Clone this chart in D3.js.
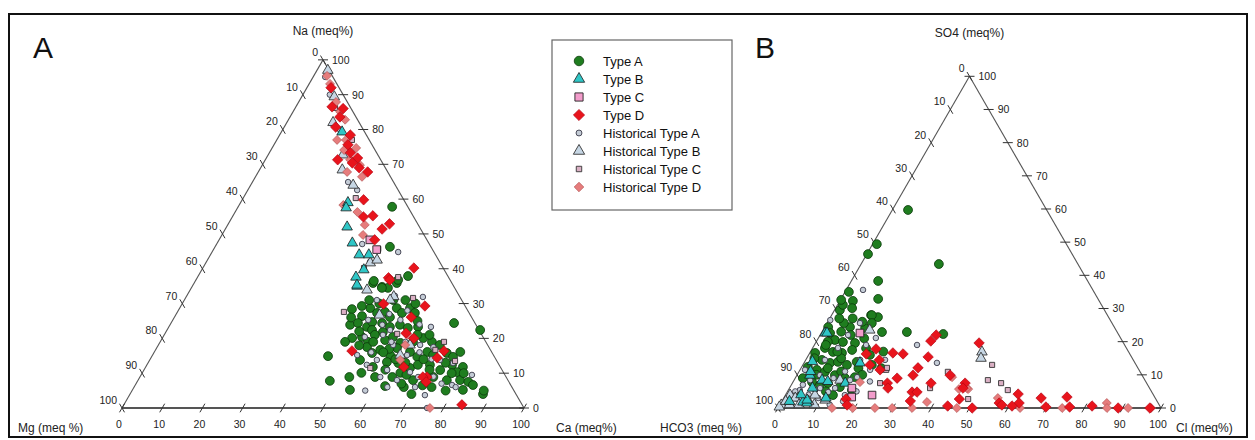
<!DOCTYPE html>
<html><head><meta charset="utf-8">
<script src="https://cdn.jsdelivr.net/npm/d3@7"></script>
<style>body{margin:0;background:#fff}svg{display:block}text{font-family:"Liberation Sans",Arial,sans-serif}</style>
</head><body><svg id="c" width="1255" height="440"></svg>
<script>
// ---------- DATA ----------
const tickValues = [0,10,20,30,40,50,60,70,80,90,100];
const legendLabels = ["Type A","Type B","Type C","Type D","Historical Type A","Historical Type B","Historical Type C","Historical Type D"];

// Cation triangle (A): [Ca, Na] in meq %, Mg = 100 - Ca - Na
const cationTypeA = [[44.5,35.9],[47.3,34.8],[50.4,35.9],[48.9,34.5],[43.0,28.4],[46.5,26.4],[47.4,28.7],[49.8,27.3],[51.6,27.6],[54.0,28.7],[56.0,27.3],[57.3,28.7],[59.2,27.3],[53.6,26.1],[44.8,23.9],[46.5,24.4],[49.3,23.3],[49.9,24.7],[52.5,24.4],[55.0,23.3],[57.2,23.9],[59.6,23.0],[62.0,23.3],[51.0,22.4],[54.0,21.8],[47.2,20.1],[49.5,20.4],[51.7,19.0],[52.4,21.0],[55.7,19.5],[57.2,20.4],[59.9,18.7],[62.9,19.0],[64.9,20.1],[67.6,19.0],[70.0,18.1],[52.2,17.5],[54.3,15.8],[55.9,16.7],[59.1,15.2],[59.8,17.2],[63.6,16.1],[66.1,14.7],[67.9,16.1],[69.8,15.2],[72.9,15.8],[75.0,14.7],[76.1,16.1],[52.3,13.8],[56.5,11.8],[59.3,13.2],[62.3,12.9],[65.9,11.5],[67.4,12.4],[70.4,12.4],[73.7,10.9],[75.9,12.4],[78.9,11.8],[78.2,10.3],[54.5,10.1],[58.5,8.9],[62.8,8.9],[64.2,10.1],[68.4,8.0],[73.0,8.9],[76.8,8.0],[80.1,8.0],[82.4,7.5],[84.0,6.6],[62.3,6.3],[67.1,6.0],[82.2,5.2],[87.8,4.0],[43.8,14.9],[47.8,7.8],[52.1,8.9],[54.1,5.2],[70.4,24.4],[77.9,22.4],[38.3,57.8],[43.5,46.3],[52.2,37.9],[44.4,36.5],[47.4,34.5],[50.3,36.8],[45.0,29.3],[87.5,5.0],[71.5,6.5],[66.0,9.5],
  [46,31],[49,30],[52,31],[55,31],[44,26],[48,22],[53,19],[58,17],[61,14],[64,13],[68,14],[71,11],[74,13],[77,10],[80,10],[66,7],[70,4],[74,6],[78,5],[60,11],[57,16],[50,18],[46,19],[63,21],[66,21],[61,25],[58,30]];
const cationTypeB = [[15.1,79.3],[26.7,59.0],[27.0,57.5],[30.0,52.0],[33.6,47.4],[37.0,44.0],[39.4,44.0],[39.4,37.6],[41.0,35.0],[40.3,39.7],[40.8,35.3]];
const cationTypeC = [[37.5,48.3],[40.6,45.5]];
const cationTypeD = [[6.0,92.0],[9.0,86.5],[12.0,86.0],[12.4,83.6],[12.8,80.7],[17.6,78.4],[18.4,75.6],[20.2,73.3],[18.0,71.3],[22.7,71.8],[24.5,69.0],[27.2,67.8],[22.1,70.4],[30.2,59.8],[34.8,55.2],[32.6,54.9],[40.1,52.9],[39.0,51.4],[38.7,48.3],[52.5,40.2],[47.6,37.4],[48.2,36.8],[50.1,29.9],[60.7,29.3],[58.9,26.1],[59.9,21.5],[62.6,20.0],[49.0,16.4],[71.9,16.4],[71.2,14.4],[64.2,11.8],[71.4,8.9],[70.4,8.9],[71.9,7.5],[84.1,0.9]];
const cationHistA = [[58.9,31.9],[65.2,23.3],[69.2,8.9],[73.5,3.7],[75.9,0],[82.3,9.5],[78.8,6.6],[54.4,21.0],[58.4,18.1],[63.3,15.2],[56.5,13.8],[54.7,12.4],[60.5,10.9],[64.4,8.0],[66.5,10.3],[69.9,6.0],[59.8,8.9],[50.9,15.2],[48.6,25.3],[52.8,23.9],[60.1,21.6],[55.5,22.4],[56.6,25.3],[47.9,31.0],[50.2,20.4],[68.7,17.5],[72.2,13.8],[75.9,12.9],[65.1,18.1],[3.0,95.1],[6.7,90.0],[14.3,79.9],[23.8,64.9],[27.2,62.6],[36.2,47.1],[40.7,42.0],[46.3,44.8],[51.8,32.2],[62.0,14.0],[57.5,19.0],
  [53,27],[57,28],[62,24],[66,16],[70,14],[73,9],[76,7],[80,6],[63,6],[58,5],[54,16],[61,19]];
const cationHistB = [[2.7,97.0],[8.1,89.4],[11.5,82.0],[18.6,72.7],[20.6,68.4],[25.5,64.0],[40.9,41.7],[42.2,42.5],[44.0,33.9],[51.6,32.0],[50.7,26.7],[61.6,15.2],[62.6,18.1],[51.2,31.0]];
const cationHistC = [[40.9,45.7],[40.1,40.2],[49.9,37.6],[56.6,31.6],[41.4,27.6],[70.6,19.0],[76.1,13.5],[56.0,11.5],[57.8,21.3],[69.6,16.7],[9.9,86.2],[18.7,77.0],[28.0,60.3]];
const cationHistD = [[3.3,95.4],[5.2,93.1],[9.3,87.9],[11.7,85.1],[14.1,82.8],[15.0,77.0],[17.2,77.0],[18.2,74.1],[20.9,74.7],[21.1,71.3],[24.3,69.8],[26.5,66.4],[22.1,67.8],[25.9,58.3],[30.4,56.3],[34.1,52.6],[35.1,49.7],[62.3,13.8],[60.6,21.0],[61.4,18.1],[76.6,0]];

// Anion triangle (B): [Cl, SO4] in meq %, HCO3 = 100 - Cl - SO4
const anionTypeA = [[4.1,59.7],[1.1,49.4],[0.3,46.4],[20.3,43.4],[7.0,38.3],[9.7,32.9],[10.3,28.0],[3.4,32.3],[1.4,29.5],[12.4,27.4],[15.7,22.9],[22.2,22.9],[32.0,22.3],[10.7,24.1],[6.6,24.4],[0.9,24.4],[1.4,31.1],[4.3,30.1],[10.5,28.0],[4.4,25.6],[2.3,22.6],[4.6,20.5],[7.0,19.9],[10.3,19.6],[3.2,18.1],[5.9,16.9],[8.4,16.6],[10.6,17.5],[1.4,16.6],[4.2,14.5],[6.8,13.6],[8.7,13.9],[11.5,13.0],[13.6,13.9],[1.6,12.4],[4.4,11.5],[6.8,10.9],[9.9,9.9],[12.5,9.0],[15.4,9.3],[2.0,9.0],[5.0,7.8],[7.5,6.9],[9.3,7.5],[13.0,6.3],[16.6,5.4],[12.4,3.9],[11.7,25.6],[0.2,32.6],[3.0,20.0],[1.0,35.0],[2.5,27.0],
  [3,4],[5,10],[7,12],[9,15],[11,11],[13,9],[15,12],[17,10],[18,13],[2,15],[3,19],[5,23],[8,22],[6,27],[9,26],[12,21],[14,18],[16,16],[19,17],[21,12],[7,17],[10,5]];
const anionTypeB = [[1.0,22.6],[14.6,13.6],[7.3,8.4],[5.6,1.8],[6.8,1.5],[13.8,7.5],[6.4,2.4],[1.5,22.6],[3.4,9.9],[2.0,14.0],[4,4],[6,6],[9,8],[3,11],[11,3],[2,2]];
const anionTypeC = [[10.1,22.6],[22.6,3.9],[16.3,6.0],[17.6,3.3]];
const anionTypeD = [[30.3,22.0],[29.8,20.2],[42.7,19.6],[30.5,12.1],[31.5,15.4],[21.7,16.6],[24.5,16.3],[16.7,17.8],[14.9,16.3],[19.2,14.5],[20.9,11.5],[30.3,9.9],[26.6,9.0],[24.8,7.5],[25.7,6.0],[36.2,7.5],[32.6,4.8],[33.9,4.8],[33.5,2.1],[46.0,2.7],[45.1,7.5],[40.0,9.9],[17.5,13.0],[16.4,2.7],[17.6,0.9],[45.3,6.0],[44.0,0.6],[57.0,1.5],[58.0,0.9],[60.6,4.2],[62.2,1.5],[60.8,0.6],[67.2,3.0],[69.8,0.3],[73.8,3.3],[76.0,0.3],[81.7,0.6],[88.8,0],[97.1,0],[50.7,0]];
const anionHistA = [[4.4,35.6],[13.5,19.0],[26.8,19.0],[34.7,13.6],[8.6,25.6],[15.0,21.1],[16.0,9.3],[1.7,3.9],[3.0,5.4],[4.2,8.4],[6.0,9.9],[7.0,5.4],[10.7,4.8],[11.9,6.0],[15.5,3.9],[14.6,8.4],[5.0,14.5],[6.6,18.1],[7.3,22.0],[0.4,26.5],[14.2,14.5],[18.3,11.5],[20.7,14.5],[1.3,11.5],
  [2,2],[3,1],[5,2],[6,4],[8,6],[9,3],[10,9],[12,11],[3,7],[2,5],[13,1],[16,2],[18,5],[20,8]];
const anionHistB = [[44.8,16.9],[45.5,15.0],[1.2,3.9],[0.4,0.9],[0.2,0.3],[4.2,3.0],[7.7,3.9],[11.1,2.4],[12.0,8.4],[12.2,23.5],[2.5,1.0],[9.0,1.0],[3,3],[5,1],[1,2],[7,2]];
const anionHistC = [[49.4,13.0],[50.6,8.4],[54.5,7.5],[57.3,5.4],[48.3,2.7],[38.9,10.9],[36.7,6.0],[22.5,11.5],[22.9,7.5],[22.4,12.1]];
const anionHistD = [[14.1,0],[25.3,0],[29.8,0],[35.0,0],[46.7,0],[38.0,1.8],[44.4,5.7],[40.8,9.3],[46.8,5.7],[55.9,3.0],[17.5,7.8],[46.3,6.0],[85.1,1.5],[85.9,0],[91.4,0],[74.2,0],[63.2,0],[97.4,0],[19.5,0]];

// ---------- STYLES ----------
const styles = {
  "Type A": {shape:"circle", size:62, fill:"#1f7d1f", stroke:"#0a3a0a", sw:0.8},
  "Type B": {shape:"triangle", size:48, fill:"#2fc6c6", stroke:"#1a1a1a", sw:0.8},
  "Type C": {shape:"square", size:58, fill:"#f29ccb", stroke:"#222", sw:0.9},
  "Type D": {shape:"diamond", size:55, fill:"#e8141c", stroke:"#b00010", sw:0.6},
  "Historical Type A": {shape:"circle", size:24, fill:"#c4ccd6", stroke:"#3a3a4a", sw:0.9},
  "Historical Type B": {shape:"triangle", size:48, fill:"#c6d6e4", stroke:"#333", sw:0.9},
  "Historical Type C": {shape:"square", size:26, fill:"#dab0c4", stroke:"#333", sw:0.9},
  "Historical Type D": {shape:"diamond", size:40, fill:"#e67c7c", stroke:"#b85a5a", sw:0.7}
};
const shapes = {circle:d3.symbolCircle, triangle:d3.symbolTriangle, square:d3.symbolSquare, diamond:d3.symbolSquare};

const svg = d3.select("#c");
svg.append("rect").attr("x",9).attr("y",14).attr("width",1238).attr("height",423)
  .attr("fill","none").attr("stroke","#111").attr("stroke-width",2);

function ternary(cfg){
  const xs = d3.scaleLinear().domain([0,100]).range([cfg.x0, cfg.x1]);
  const h = (cfg.x1-cfg.x0)*Math.sqrt(3)/2;
  const ys = d3.scaleLinear().domain([0,100]).range([cfg.base, cfg.base-h]);
  const proj = (p,q) => [xs(p + q/2), ys(q)];
  const g = svg.append("g");
  const BL = proj(0,0), BR = proj(100,0), TP = proj(0,100);
  g.append("line").attr("x1",TP[0]).attr("y1",TP[1]).attr("x2",BL[0]).attr("y2",BL[1]).attr("stroke","#555").attr("stroke-width",1.1);
  g.append("line").attr("x1",TP[0]).attr("y1",TP[1]).attr("x2",BR[0]).attr("y2",BR[1]).attr("stroke","#555").attr("stroke-width",1.1);
  g.append("line").attr("x1",BL[0]).attr("y1",BL[1]).attr("x2",BR[0]).attr("y2",BR[1]).attr("stroke","#555").attr("stroke-width",2.2);
  const tf = "10.5px";
  tickValues.forEach(v=>{
    const [x,y] = proj(v,0);
    g.append("line").attr("x1",x-2.5).attr("y1",y+4.3).attr("x2",x+2.5).attr("y2",y-4.3).attr("stroke","#333");
    g.append("text").attr("x",x-3).attr("y",y+20).attr("text-anchor","middle").attr("font-size",tf).attr("fill","#222").text(v);
  });
  tickValues.forEach(v=>{
    const [x,y] = proj(100-v, v);
    g.append("line").attr("x1",x-5).attr("y1",y).attr("x2",x+5).attr("y2",y).attr("stroke","#333");
    g.append("text").attr("x",x+9).attr("y",y+4).attr("font-size",tf).attr("fill","#222").text(v);
  });
  tickValues.forEach(v=>{
    const [x,y] = proj(0, 100-v);
    g.append("line").attr("x1",x-2.5).attr("y1",y-4.3).attr("x2",x+2.5).attr("y2",y+4.3).attr("stroke","#333");
    g.append("text").attr("x",x-5).attr("y",y-4).attr("text-anchor","end").attr("font-size",tf).attr("fill","#222").text(v);
  });
  g.append("text").attr("x",TP[0]).attr("y",cfg.topTitleY).attr("text-anchor","middle").attr("font-size","12px").attr("fill","#222").text(cfg.topTitle);
  g.append("text").attr("x",cfg.leftTitleX).attr("y",432).attr("font-size","12px").attr("fill","#222").text(cfg.leftTitle);
  g.append("text").attr("x",cfg.rightTitleX).attr("y",432).attr("font-size","12px").attr("fill","#222").text(cfg.rightTitle);
  g.append("text").attr("x",cfg.letterX).attr("y",58).attr("font-size","30px").attr("fill","#111").text(cfg.letter);
  cfg.series.forEach(([name, data])=>{
    const st = styles[name];
    const sym = d3.symbol().type(shapes[st.shape]).size(st.size);
    g.append("g").selectAll("path").data(data).join("path")
      .attr("d", sym)
      .attr("transform", d => { const [x,y] = proj(d[0], d[1]); return `translate(${x},${y})` + (st.shape==="diamond" ? " rotate(45)" : ""); })
      .attr("fill", st.fill).attr("stroke", st.stroke).attr("stroke-width", st.sw);
  });
}

ternary({x0:122, x1:524, base:408, topTitle:"Na (meq%)", topTitleY:35, leftTitle:"Mg (meq %)", leftTitleX:18, rightTitle:"Ca (meq%)", rightTitleX:556, letter:"A", letterX:33,
  series:[["Type A",cationTypeA],["Historical Type A",cationHistA],["Historical Type B",cationHistB],["Historical Type C",cationHistC],["Historical Type D",cationHistD],["Type B",cationTypeB],["Type C",cationTypeC],["Type D",cationTypeD]]});
ternary({x0:778, x1:1161, base:408, topTitle:"SO4 (meq%)", topTitleY:37, leftTitle:"HCO3 (meq %)", leftTitleX:660, rightTitle:"Cl (meq%)", rightTitleX:1176, letter:"B", letterX:755,
  series:[["Type A",anionTypeA],["Historical Type A",anionHistA],["Historical Type B",anionHistB],["Historical Type C",anionHistC],["Historical Type D",anionHistD],["Type B",anionTypeB],["Type C",anionTypeC],["Type D",anionTypeD]]});

const lg = svg.append("g");
lg.append("rect").attr("x",552).attr("y",40).attr("width",180).attr("height",170).attr("fill","#fff").attr("stroke","#666").attr("stroke-width",1.2);
legendLabels.forEach((name,i)=>{
  const st = styles[name];
  const y = 61 + i*18;
  const sym = d3.symbol().type(shapes[st.shape]).size(st.size*1.15);
  lg.append("path").attr("d", sym).attr("transform", `translate(579,${y})` + (st.shape==="diamond"?" rotate(45)":""))
    .attr("fill", st.fill).attr("stroke", st.stroke).attr("stroke-width", st.sw);
  lg.append("text").attr("x",603).attr("y",y+4.5).attr("font-size","13px").attr("fill","#111").text(name);
});
</script></body></html>
